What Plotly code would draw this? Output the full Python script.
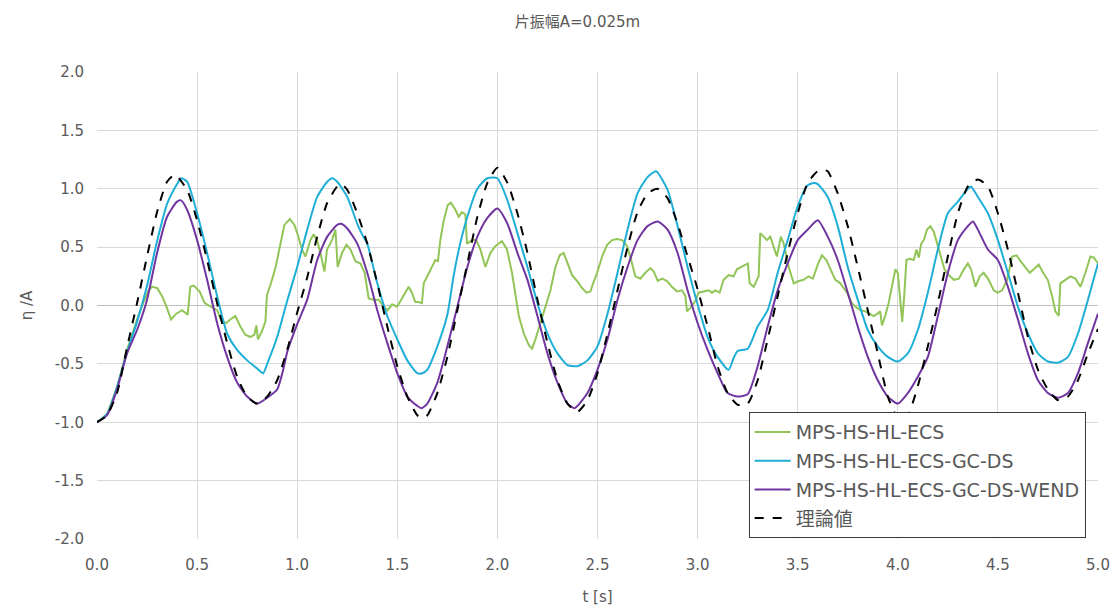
import plotly.graph_objects as go

# ---- data -------------------------------------------------------------
t_theory = [0.00, 0.05, 0.10, 0.15, 0.20, 0.25, 0.30, 0.35, 0.39, 0.45, 0.50, 0.55, 0.60, 0.65, 0.70,
            0.75, 0.80, 0.85, 0.90, 0.95, 1.00, 1.05, 1.10, 1.15, 1.20, 1.22, 1.25, 1.30, 1.35, 1.40,
            1.45, 1.50, 1.55, 1.60, 1.625, 1.65, 1.70, 1.75, 1.80, 1.85, 1.90, 1.95, 2.00, 2.05, 2.10,
            2.15, 2.20, 2.25, 2.30, 2.35, 2.40, 2.45, 2.50, 2.55, 2.60, 2.65, 2.70, 2.75, 2.80, 2.85,
            2.90, 2.95, 3.00, 3.05, 3.10, 3.15, 3.20, 3.25, 3.30, 3.35, 3.40, 3.45, 3.50, 3.55, 3.60,
            3.63, 3.65, 3.70, 3.75, 3.80, 3.85, 3.90, 3.95, 4.00, 4.02, 4.05, 4.10, 4.15, 4.20, 4.25,
            4.30, 4.35, 4.40, 4.45, 4.50, 4.55, 4.60, 4.65, 4.70, 4.75, 4.80, 4.85, 4.90, 4.95, 5.00]
y_theory = [-1.00, -0.94, -0.75, -0.36, 0.02, 0.42, 0.80, 1.06, 1.12, 0.99, 0.73, 0.39, 0.02, -0.32, -0.61,
            -0.78, -0.84, -0.78, -0.64, -0.38, -0.06, 0.24, 0.59, 0.88, 1.02, 1.04, 0.99, 0.79, 0.53, 0.19,
            -0.18, -0.52, -0.78, -0.94, -0.965, -0.94, -0.75, -0.44, -0.04, 0.36, 0.76, 1.05, 1.18, 1.05, 0.79,
            0.45, 0.05, -0.32, -0.64, -0.84, -0.91, -0.81, -0.58, -0.24, 0.13, 0.50, 0.80, 0.96, 1.00, 0.92,
            0.70, 0.42, 0.14, -0.18, -0.52, -0.75, -0.85, -0.84, -0.64, -0.29, 0.08, 0.45, 0.79, 1.05, 1.15,
            1.16, 1.15, 0.96, 0.68, 0.33, -0.04, -0.41, -0.78, -0.97, -1.00, -0.95, -0.69, -0.35, 0.02, 0.42,
            0.79, 1.02, 1.08, 1.02, 0.79, 0.48, 0.11, -0.27, -0.55, -0.72, -0.81, -0.78, -0.64, -0.41, -0.20]

t_gcds = [0.00, 0.05, 0.10, 0.15, 0.20, 0.25, 0.30, 0.35, 0.40, 0.42, 0.45, 0.50, 0.55, 0.60, 0.65,
          0.70, 0.75, 0.80, 0.83, 0.85, 0.90, 0.95, 1.00, 1.05, 1.10, 1.15, 1.175, 1.20, 1.25, 1.30,
          1.33, 1.35, 1.40, 1.45, 1.50, 1.55, 1.60, 1.625, 1.65, 1.70, 1.75, 1.78, 1.81, 1.85, 1.90,
          1.95, 2.00, 2.05, 2.10, 2.15, 2.20, 2.25, 2.30, 2.35, 2.385, 2.40, 2.45, 2.50, 2.55, 2.60,
          2.65, 2.70, 2.75, 2.79, 2.80, 2.85, 2.90, 2.95, 3.00, 3.05, 3.10, 3.155, 3.18, 3.20, 3.25,
          3.30, 3.35, 3.40, 3.45, 3.50, 3.55, 3.58, 3.60, 3.65, 3.70, 3.75, 3.80, 3.85, 3.90, 3.95,
          4.00, 4.05, 4.10, 4.15, 4.20, 4.25, 4.30, 4.35, 4.365, 4.40, 4.45, 4.50, 4.55, 4.60, 4.65,
          4.70, 4.75, 4.80, 4.85, 4.90, 4.95, 5.00]
y_gcds = [-1.00, -0.93, -0.70, -0.40, -0.14, 0.17, 0.55, 0.87, 1.04, 1.09, 1.06, 0.79, 0.45, 0.08, -0.24,
          -0.38, -0.47, -0.54, -0.58, -0.50, -0.27, 0.04, 0.33, 0.65, 0.93, 1.06, 1.09, 1.06, 0.93, 0.70,
          0.59, 0.53, 0.19, -0.09, -0.29, -0.47, -0.58, -0.58, -0.55, -0.35, -0.08, 0.24, 0.50, 0.76, 1.00,
          1.09, 1.09, 0.90, 0.62, 0.33, 0.02, -0.24, -0.41, -0.51, -0.52, -0.52, -0.47, -0.35, -0.07, 0.28,
          0.65, 0.96, 1.10, 1.15, 1.14, 0.99, 0.68, 0.33, 0.01, -0.27, -0.44, -0.55, -0.45, -0.39, -0.37,
          -0.18, -0.04, 0.28, 0.56, 0.85, 1.03, 1.05, 1.04, 0.93, 0.68, 0.33, 0.05, -0.21, -0.35, -0.44,
          -0.48, -0.41, -0.21, 0.11, 0.48, 0.79, 0.89, 1.00, 1.02, 0.93, 0.79, 0.56, 0.28, -0.01, -0.24,
          -0.41, -0.48, -0.49, -0.44, -0.24, 0.05, 0.36]

t_wend = [0.00, 0.05, 0.10, 0.15, 0.20, 0.25, 0.30, 0.35, 0.40, 0.42, 0.45, 0.50, 0.55, 0.60, 0.65,
          0.70, 0.75, 0.80, 0.85, 0.90, 0.93, 0.95, 1.00, 1.05, 1.10, 1.15, 1.20, 1.22, 1.25, 1.30,
          1.35, 1.40, 1.45, 1.50, 1.55, 1.60, 1.62, 1.65, 1.70, 1.75, 1.80, 1.85, 1.90, 1.95, 2.00,
          2.05, 2.10, 2.15, 2.20, 2.25, 2.30, 2.35, 2.385, 2.40, 2.45, 2.50, 2.55, 2.60, 2.65, 2.70,
          2.75, 2.80, 2.85, 2.90, 2.95, 3.00, 3.05, 3.10, 3.15, 3.20, 3.25, 3.30, 3.35, 3.40, 3.45,
          3.50, 3.55, 3.60, 3.65, 3.70, 3.75, 3.80, 3.85, 3.90, 3.95, 4.00, 4.05, 4.10, 4.15, 4.20,
          4.25, 4.30, 4.35, 4.375, 4.40, 4.45, 4.50, 4.55, 4.60, 4.65, 4.70, 4.75, 4.80, 4.85, 4.90,
          4.95, 5.00]
y_wend = [-1.00, -0.94, -0.72, -0.41, -0.21, 0.05, 0.45, 0.76, 0.89, 0.90, 0.82, 0.56, 0.22, -0.15, -0.44,
          -0.66, -0.78, -0.84, -0.79, -0.72, -0.55, -0.40, -0.16, 0.05, 0.39, 0.59, 0.69, 0.70, 0.66, 0.53,
          0.28, -0.04, -0.32, -0.58, -0.78, -0.86, -0.88, -0.84, -0.66, -0.35, -0.01, 0.33, 0.59, 0.75, 0.83,
          0.70, 0.45, 0.22, -0.09, -0.41, -0.66, -0.84, -0.88, -0.86, -0.75, -0.55, -0.29, 0.05, 0.33, 0.56,
          0.68, 0.72, 0.65, 0.45, 0.13, -0.15, -0.38, -0.58, -0.75, -0.78, -0.76, -0.52, -0.18, 0.13, 0.36,
          0.56, 0.65, 0.73, 0.59, 0.39, 0.11, -0.18, -0.44, -0.64, -0.78, -0.84, -0.75, -0.61, -0.44, -0.09,
          0.28, 0.56, 0.68, 0.72, 0.65, 0.48, 0.39, 0.16, -0.12, -0.41, -0.64, -0.75, -0.79, -0.75, -0.58,
          -0.32, -0.07]

t_ecs = [0.00, 0.05, 0.10, 0.15, 0.20, 0.23, 0.258, 0.275, 0.30, 0.325, 0.347, 0.37, 0.396, 0.425, 0.453,
         0.466, 0.483, 0.513, 0.538, 0.566, 0.60, 0.624, 0.646, 0.666, 0.691, 0.716, 0.741, 0.766, 0.786, 0.796,
         0.804, 0.824, 0.841, 0.849, 0.869, 0.891, 0.913, 0.936, 0.963, 0.986, 1.002, 1.024, 1.041, 1.066, 1.082,
         1.099, 1.116, 1.136, 1.149, 1.174, 1.191, 1.202, 1.224, 1.246, 1.266, 1.291, 1.316, 1.337, 1.357, 1.382,
         1.407, 1.432, 1.452, 1.474, 1.499, 1.519, 1.54, 1.557, 1.573, 1.59, 1.607, 1.623, 1.632, 1.649, 1.668,
         1.69, 1.703, 1.715, 1.732, 1.752, 1.768, 1.79, 1.807, 1.823, 1.84, 1.848, 1.873, 1.894, 1.915, 1.94,
         1.965, 1.99, 2.023, 2.048, 2.073, 2.095, 2.107, 2.132, 2.157, 2.173, 2.19, 2.215, 2.24, 2.265, 2.29,
         2.311, 2.331, 2.351, 2.373, 2.398, 2.423, 2.445, 2.465, 2.478, 2.498, 2.523, 2.548, 2.573, 2.598, 2.623,
         2.648, 2.668, 2.689, 2.714, 2.739, 2.764, 2.781, 2.801, 2.823, 2.847, 2.872, 2.897, 2.922, 2.939, 2.947,
         2.964, 2.989, 3.005, 3.03, 3.055, 3.072, 3.088, 3.11, 3.13, 3.155, 3.18, 3.196, 3.221, 3.238, 3.251,
         3.26, 3.28, 3.305, 3.313, 3.33, 3.346, 3.363, 3.38, 3.396, 3.416, 3.43, 3.455, 3.48, 3.505, 3.53,
         3.554, 3.576, 3.60, 3.621, 3.643, 3.663, 3.688, 3.713, 3.729, 3.746, 3.771, 3.788, 3.813, 3.837, 3.859,
         3.879, 3.899, 3.912, 3.921, 3.937, 3.954, 3.971, 3.988, 4.00, 4.012, 4.022, 4.032, 4.043, 4.06, 4.08,
         4.093, 4.105, 4.117, 4.13, 4.146, 4.163, 4.18, 4.196, 4.213, 4.233, 4.255, 4.28, 4.305, 4.33, 4.35,
         4.366, 4.388, 4.409, 4.429, 4.454, 4.479, 4.499, 4.521, 4.546, 4.571, 4.593, 4.613, 4.638, 4.659, 4.679,
         4.704, 4.726, 4.749, 4.771, 4.787, 4.804, 4.812, 4.837, 4.862, 4.887, 4.912, 4.937, 4.962, 4.979, 5.00]
y_ecs = [-1.00, -0.93, -0.70, -0.38, -0.12, 0.02, 0.13, 0.16, 0.15, 0.08, -0.01, -0.12, -0.07, -0.04, -0.08,
         0.16, 0.17, 0.12, 0.02, -0.01, -0.04, -0.14, -0.15, -0.12, -0.09, -0.18, -0.25, -0.27, -0.25, -0.17,
         -0.29, -0.22, -0.14, 0.09, 0.19, 0.32, 0.51, 0.69, 0.74, 0.69, 0.61, 0.48, 0.42, 0.56, 0.61,
         0.56, 0.45, 0.29, 0.48, 0.56, 0.65, 0.33, 0.45, 0.52, 0.48, 0.38, 0.36, 0.28, 0.06, 0.05,
         0.05, -0.01, -0.04, 0.01, -0.01, 0.05, 0.12, 0.16, 0.11, 0.03, 0.03, 0.02, 0.19, 0.25, 0.31,
         0.39, 0.38, 0.56, 0.73, 0.86, 0.88, 0.82, 0.76, 0.80, 0.78, 0.53, 0.56, 0.56, 0.48, 0.33,
         0.45, 0.51, 0.55, 0.48, 0.28, 0.05, -0.09, -0.24, -0.34, -0.37, -0.29, -0.15, -0.01, 0.13, 0.33,
         0.43, 0.45, 0.36, 0.26, 0.21, 0.15, 0.11, 0.12, 0.19, 0.28, 0.42, 0.52, 0.56, 0.57, 0.56,
         0.51, 0.39, 0.25, 0.23, 0.28, 0.32, 0.29, 0.21, 0.23, 0.21, 0.16, 0.12, 0.13, 0.08, -0.05,
         -0.02, 0.04, 0.11, 0.12, 0.13, 0.11, 0.13, 0.11, 0.22, 0.26, 0.25, 0.31, 0.33, 0.35, 0.36,
         0.19, 0.16, 0.25, 0.62, 0.59, 0.56, 0.59, 0.51, 0.42, 0.59, 0.53, 0.33, 0.19, 0.21, 0.22,
         0.25, 0.23, 0.35, 0.43, 0.39, 0.31, 0.22, 0.19, 0.15, 0.11, 0.02, -0.01, -0.04, -0.05, -0.07,
         -0.09, -0.07, -0.05, -0.17, -0.09, 0.02, 0.16, 0.31, 0.28, 0.05, -0.14, 0.08, 0.39, 0.40, 0.39,
         0.48, 0.41, 0.53, 0.56, 0.65, 0.68, 0.63, 0.53, 0.42, 0.31, 0.26, 0.22, 0.23, 0.31, 0.36,
         0.31, 0.16, 0.25, 0.28, 0.22, 0.13, 0.11, 0.13, 0.22, 0.42, 0.43, 0.38, 0.32, 0.28, 0.31,
         0.35, 0.28, 0.22, 0.08, -0.05, -0.09, 0.19, 0.22, 0.25, 0.23, 0.16, 0.28, 0.42, 0.41, 0.36]

x_ticks = [0.0, 0.5, 1.0, 1.5, 2.0, 2.5, 3.0, 3.5, 4.0, 4.5, 5.0]
x_tick_labels = ["0.0", "0.5", "1.0", "1.5", "2.0", "2.5", "3.0", "3.5", "4.0", "4.5", "5.0"]
y_ticks = [-2.0, -1.5, -1.0, -0.5, 0.0, 0.5, 1.0, 1.5, 2.0]
y_tick_labels = ["-2.0", "-1.5", "-1.0", "-0.5", "0.0", "0.5", "1.0", "1.5", "2.0"]

# ---- figure -----------------------------------------------------------
FONT = "DejaVu Sans, Noto Sans CJK JP"
GREY = "#595959"

fig = go.Figure()
fig.add_trace(go.Scatter(x=t_ecs, y=y_ecs, mode="lines", name="MPS-HS-HL-ECS",
                         legendgroup="a", line=dict(color="#92c557", width=2)))
fig.add_trace(go.Scatter(x=t_gcds, y=y_gcds, mode="lines", name="MPS-HS-HL-ECS-GC-DS",
                         legendgroup="b", line=dict(color="#1eaed6", width=2, shape="spline", smoothing=0.6)))
fig.add_trace(go.Scatter(x=t_wend, y=y_wend, mode="lines", name="MPS-HS-HL-ECS-GC-DS-WEND",
                         legendgroup="c", line=dict(color="#7035a0", width=2, shape="spline", smoothing=0.6)))
fig.add_trace(go.Scatter(x=t_theory, y=y_theory, mode="lines", name="理論値",
                         legendgroup="d", line=dict(color="#000000", width=2, dash="dash",
                                                    shape="spline", smoothing=0.6)))

fig.update_layout(
    width=1117, height=610,
    margin=dict(l=97, r=19, t=72, b=71),
    paper_bgcolor="white", plot_bgcolor="white",
    font=dict(family=FONT, color=GREY, size=15),
    title=dict(text="片振幅A=0.025m", x=0.517, xref="container", xanchor="center",
               y=0.965, yref="container", yanchor="middle",
               font=dict(family=FONT, size=15, color=GREY)),
    showlegend=True,
    legend=dict(x=0.651, y=0.2716, xanchor="left", yanchor="top",
                bgcolor="white", bordercolor="#3a3a3a", borderwidth=1,
                font=dict(family=FONT, size=19, color=GREY),
                tracegroupgap=1, itemwidth=36),
)

fig.update_xaxes(range=[0, 5], tickvals=x_ticks, ticktext=x_tick_labels, automargin=False,
                 showgrid=True, gridcolor="#d9d9d9", gridwidth=1,
                 zeroline=False, showline=False, ticks="", ticklabelstandoff=15,
                 tickfont=dict(family=FONT, size=15, color=GREY),
                 title=dict(text="t [s]", font=dict(family=FONT, size=15, color=GREY), standoff=18))
fig.update_yaxes(range=[-2, 2], tickvals=y_ticks, ticktext=y_tick_labels, automargin=False,
                 showgrid=True, gridcolor="#d9d9d9", gridwidth=1,
                 zeroline=True, zerolinecolor="#bfbfbf", zerolinewidth=1,
                 showline=False, ticks="", ticklabelstandoff=12,
                 tickfont=dict(family=FONT, size=15, color=GREY),
                 title=dict(text="η /A", font=dict(family=FONT, size=15, color=GREY), standoff=18))

fig.write_html("out.html")
